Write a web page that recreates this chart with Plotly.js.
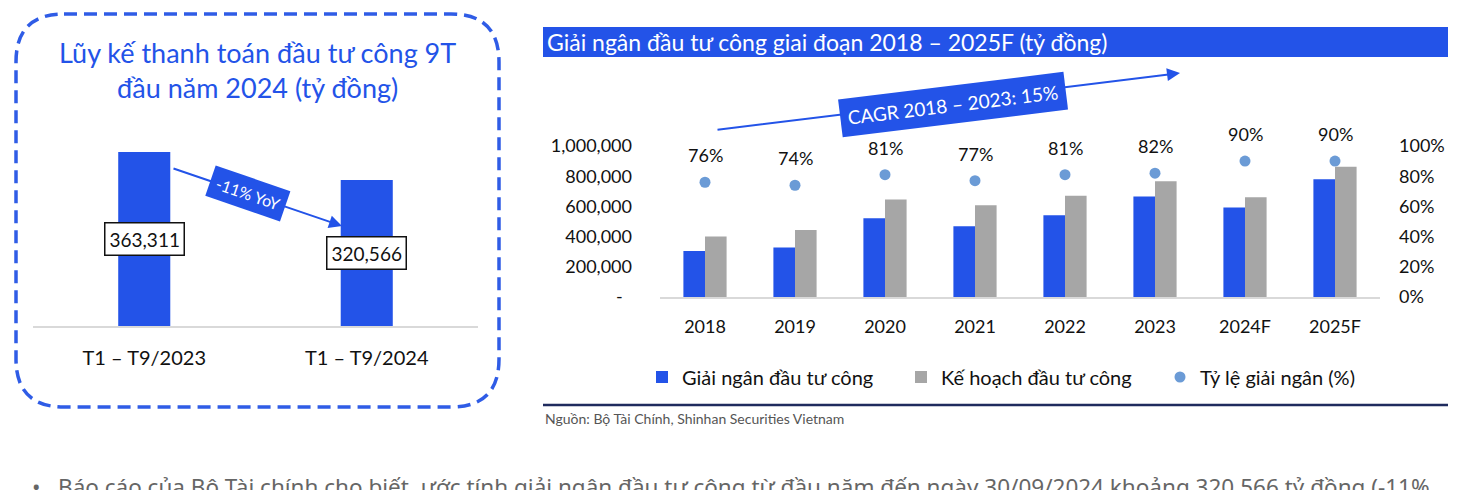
<!DOCTYPE html>
<html>
<head>
<meta charset="utf-8">
<script src="https://cdn.plot.ly/plotly-3.0.1.min.js"></script>
<style>
  html, body { margin: 0; padding: 0; background: #fff; }
  #chart { width: 1481px; height: 490px; }
</style>
</head>
<body>
<div id="chart"></div>
<script>
// Left panel: cumulative 9M payments
const leftCats = ['T1 – T9/2023', 'T1 – T9/2024'];
const leftVals = [363311, 320566];
const leftLabels = ['363,311', '320,566'];

// Right panel: disbursement 2018 - 2025F
const years = ['2018', '2019', '2020', '2021', '2022', '2023', '2024F', '2025F'];
const disbursed = [305000, 327000, 521000, 468000, 541000, 665000, 592000, 779000];
const planned = [400000, 444000, 645000, 607000, 671000, 766000, 660000, 863000];
const ratePct = [76, 74, 81, 77, 81, 82, 90, 90];

const yTickVals = [0, 200000, 400000, 600000, 800000, 1000000];
const yTickText = ['-\u00a0\u00a0', '200,000', '400,000', '600,000', '800,000', '1,000,000'];

const W = 1481, H = 490;
const BLUE = '#2353e8';
const GRAY = '#a6a6a6';
const DOT = '#6b9bd6';
const FONT = 'Lato, "Noto Sans", sans-serif';

const px = x => x / W;
const py = y => 1 - y / H;

// rounded dashed frame around the left panel
function roundRect(x0, y0, x1, y1, r) {
  const P = (x, y) => `${px(x)},${py(y)}`;
  return `M${P(x0 + r, y0)} L${P(x1 - r, y0)} Q${P(x1, y0)} ${P(x1, y0 + r)} ` +
    `L${P(x1, y1 - r)} Q${P(x1, y1)} ${P(x1 - r, y1)} L${P(x0 + r, y1)} ` +
    `Q${P(x0, y1)} ${P(x0, y1 - r)} L${P(x0, y0 + r)} Q${P(x0, y0)} ${P(x0 + r, y0)} Z`;
}

const leftRange = [97800, 396900];

const traces = [
  {
    type: 'bar', x: leftCats, y: leftVals, xaxis: 'x', yaxis: 'y',
    width: 0.234, marker: { color: BLUE }, showlegend: false,
  },
  {
    type: 'bar', name: 'Giải ngân đầu tư công', x: years, y: disbursed,
    xaxis: 'x2', yaxis: 'y2', width: 0.24, offset: -0.24, marker: { color: BLUE },
  },
  {
    type: 'bar', name: 'Kế hoạch đầu tư công', x: years, y: planned,
    xaxis: 'x2', yaxis: 'y2', width: 0.24, offset: 0, marker: { color: GRAY },
  },
  {
    type: 'scatter', mode: 'markers', name: 'Tỷ lệ giải ngân (%)', x: years, y: ratePct,
    xaxis: 'x2', yaxis: 'y3', marker: { color: DOT, size: 11 },
  },
];

const annotations = [
  // left title
  {
    xref: 'paper', yref: 'paper', x: px(257), y: py(70), xanchor: 'center', yanchor: 'middle',
    showarrow: false, align: 'center',
    text: 'Lũy kế thanh toán đầu tư công 9T<br>đầu năm 2024 (tỷ đồng)',
    font: { family: FONT, size: 27, color: BLUE },
  },
  // -11% YoY arrow, then its label box
  {
    xref: 'paper', yref: 'paper', x: px(342), y: py(226), ax: -170, ay: -58,
    text: '', showarrow: true, arrowhead: 2, arrowsize: 1.3, arrowwidth: 2, arrowcolor: BLUE,
  },
  {
    xref: 'paper', yref: 'paper', x: px(248), y: py(193), xanchor: 'center', yanchor: 'middle',
    showarrow: false, text: '-11% YoY', textangle: 19, bgcolor: BLUE, borderpad: 6,
    font: { family: FONT, size: 16, color: '#fff' },
  },
  // right header
  {
    xref: 'paper', yref: 'paper', x: px(545), y: py(42), xanchor: 'left', yanchor: 'middle',
    showarrow: false, text: 'Giải ngân đầu tư công giai đoạn 2018 – 2025F (tỷ đồng)',
    font: { family: FONT, size: 23, color: '#fff' },
  },
  // CAGR arrow, then its label box
  {
    xref: 'paper', yref: 'paper', x: px(1180), y: py(73), ax: -464, ay: 57,
    text: '', showarrow: true, arrowhead: 2, arrowsize: 1.3, arrowwidth: 2, arrowcolor: BLUE,
  },
  {
    xref: 'paper', yref: 'paper', x: px(953), y: py(104), xanchor: 'center', yanchor: 'middle',
    showarrow: false, text: 'CAGR 2018 – 2023: 15%', textangle: -7, bgcolor: BLUE, borderpad: 7,
    font: { family: FONT, size: 19, color: '#fff' },
  },
  // source
  {
    xref: 'paper', yref: 'paper', x: px(543), y: py(418), xanchor: 'left', yanchor: 'middle',
    showarrow: false, text: 'Nguồn: Bộ Tài Chính, Shinhan Securities Vietnam',
    font: { family: FONT, size: 14, color: '#555' },
  },
  // bottom paragraph, cut by the page edge
  {
    xref: 'paper', yref: 'paper', x: px(30), y: py(469), xanchor: 'left', yanchor: 'top',
    showarrow: false,
    text: '•\u00a0\u00a0\u00a0Báo cáo của Bộ Tài chính cho biết, ước tính giải ngân đầu tư công từ đầu năm đến ngày 30/09/2024 khoảng 320,566 tỷ đồng (-11%',
    font: { family: '"Noto Sans", sans-serif', size: 22.5, color: '#666' },
  },
];

// value boxes centred in the left bars
leftCats.forEach((c, i) => {
  annotations.push({
    xref: 'x', yref: 'y', x: i, y: (leftRange[0] + leftVals[i]) / 2,
    xanchor: 'center', yanchor: 'middle', showarrow: false,
    text: leftLabels[i], bgcolor: '#fff', bordercolor: '#111', borderwidth: 1.5, borderpad: 4,
    font: { family: FONT, size: 19, color: '#111' },
  });
});

// percentage labels above the dots (x given as category index)
years.forEach((c, i) => {
  annotations.push({
    xref: 'x2', yref: 'y3', x: i, y: ratePct[i], yshift: 27,
    xanchor: 'center', yanchor: 'middle', showarrow: false,
    text: ratePct[i] + '%', font: { family: FONT, size: 18, color: '#111' },
  });
});

const shapes = [
  {
    type: 'path', xref: 'paper', yref: 'paper', path: roundRect(16, 14, 499, 407, 48),
    line: { color: '#2f5ce6', width: 3.5, dash: '13px,7px' },
  },
  {
    type: 'rect', xref: 'paper', yref: 'paper', x0: px(543), x1: px(1448), y0: py(57), y1: py(27),
    fillcolor: BLUE, line: { width: 0 }, layer: 'below',
  },
  {
    type: 'line', xref: 'paper', yref: 'paper', x0: px(543), x1: px(1448), y0: py(405), y1: py(405),
    line: { color: '#1f2b5e', width: 2.5 },
  },
];

const layout = {
  width: W, height: H,
  margin: { t: 0, r: 0, b: 0, l: 0 },
  paper_bgcolor: '#fff', plot_bgcolor: 'rgba(0,0,0,0)',
  font: { family: FONT, size: 18, color: '#111' },
  barmode: 'overlay',
  showlegend: true,
  xaxis: {
    domain: [px(33), px(478)], anchor: 'y', type: 'category', range: [-0.5, 1.5],
    showline: true, linecolor: '#d9d9d9', linewidth: 2, showgrid: false, zeroline: false,
    ticks: '', ticklabelstandoff: 13,
    tickfont: { family: FONT, size: 20, color: '#111' },
  },
  yaxis: {
    domain: [py(326), py(130)], anchor: 'x', range: leftRange,
    visible: false, showgrid: false, zeroline: false,
  },
  xaxis2: {
    domain: [px(660), px(1380)], anchor: 'y2', type: 'category', range: [-0.5, 7.5],
    showline: true, linecolor: '#d9d9d9', linewidth: 2, showgrid: false, zeroline: false,
    ticks: '', ticklabelstandoff: 12,
    tickfont: { family: FONT, size: 18, color: '#111' },
  },
  yaxis2: {
    domain: [py(297), py(146)], anchor: 'x2', range: [0, 1000000],
    tickvals: yTickVals, ticktext: yTickText,
    showgrid: false, zeroline: false, showline: false, ticks: '', ticklabelstandoff: 27,
    tickfont: { family: FONT, size: 18, color: '#111' },
  },
  yaxis3: {
    overlaying: 'y2', anchor: 'x2', side: 'right', range: [0, 100],
    tickmode: 'linear', tick0: 0, dtick: 20, ticksuffix: '%',
    showgrid: false, zeroline: false, showline: false, ticks: '', ticklabelstandoff: 18,
    tickfont: { family: FONT, size: 18, color: '#111' },
  },
  legend: {
    orientation: 'h', x: px(642), xanchor: 'left', y: py(377), yanchor: 'middle',
    font: { family: FONT, size: 20, color: '#111' }, entrywidth: 214,
    bgcolor: 'rgba(0,0,0,0)',
  },
  annotations,
  shapes,
};

Plotly.newPlot('chart', traces, layout, { staticPlot: true, displayModeBar: false });
</script>
</body>
</html>
